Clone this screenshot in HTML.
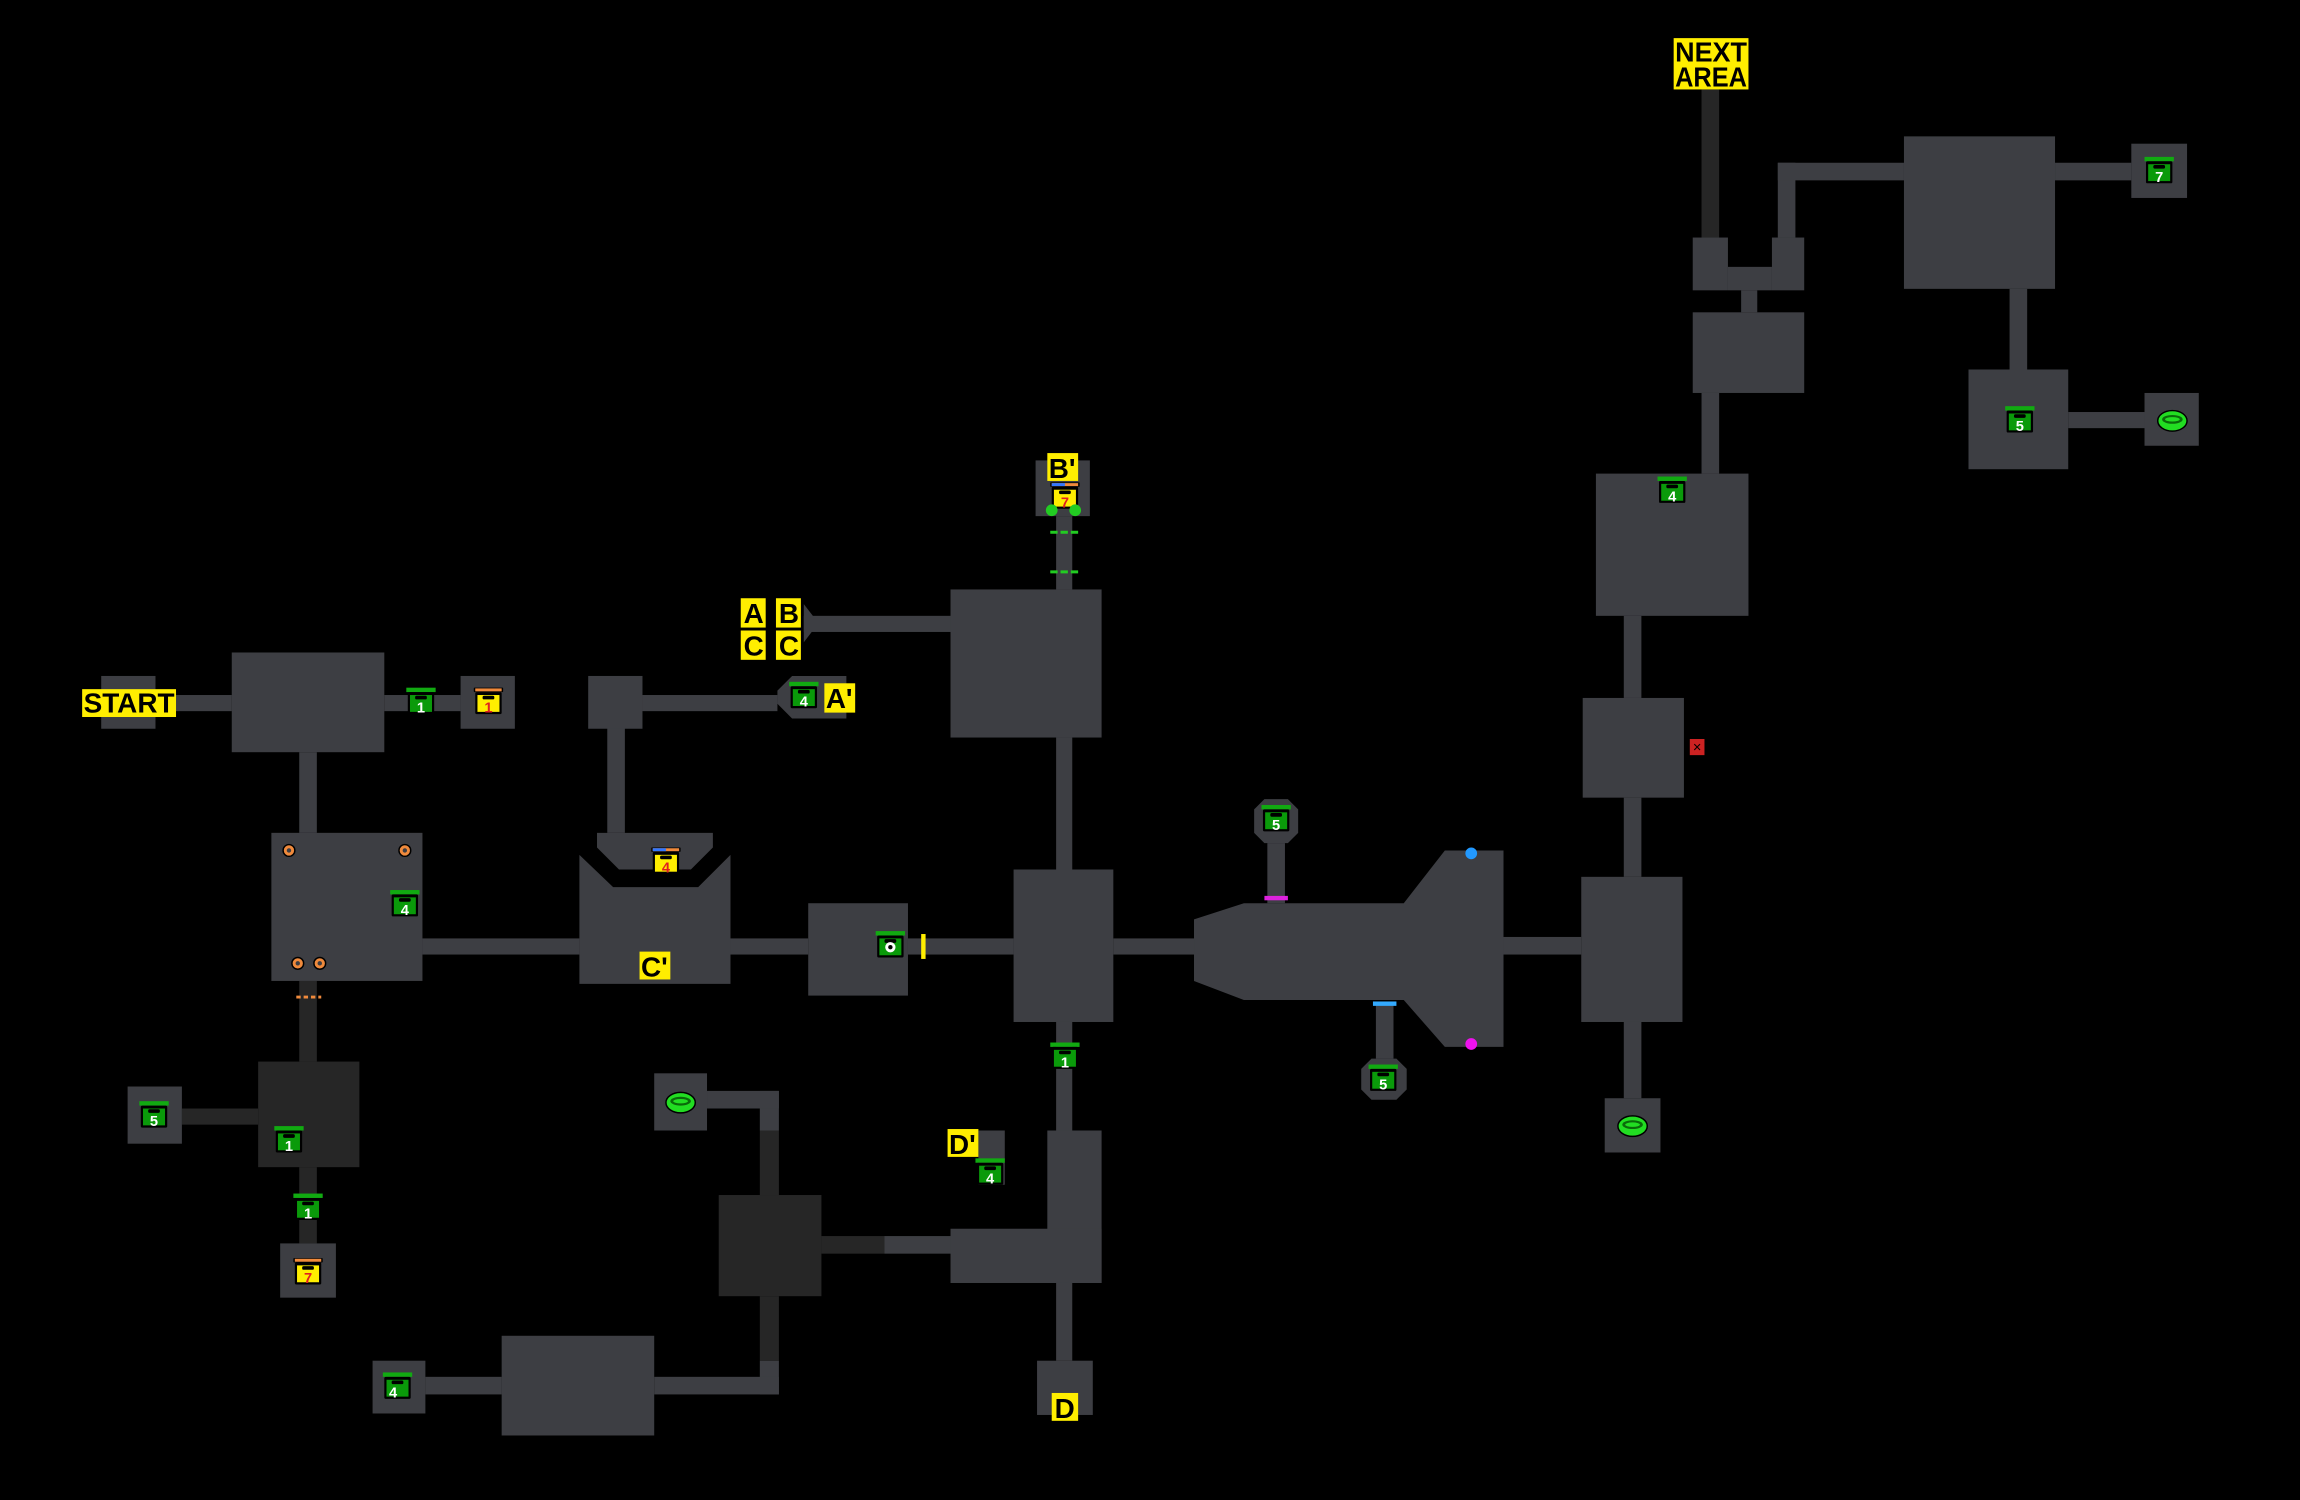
<!DOCTYPE html>
<html><head><meta charset="utf-8"><style>
html,body{margin:0;padding:0;background:#000;}
svg{display:block}
text{font-family:"Liberation Sans","DejaVu Sans",sans-serif;}
.r{fill:#3d3e43}
.d{fill:#262626}
.lab{fill:#ffee00}
.lt{font-size:19px;fill:#000;font-weight:bold}
.cn{font-size:10px;fill:#fff;text-anchor:middle;font-weight:bold}
.yn{font-size:10px;fill:#e02020;text-anchor:middle;font-weight:bold}
</style></head><body>
<svg width="2300" height="1500" viewBox="0 0 1568 1023" preserveAspectRatio="none" xmlns="http://www.w3.org/2000/svg">
<defs>
<g id="gc"><rect x="0" y="-1" width="20" height="3" fill="#11aa11"/><rect x="1" y="2" width="18" height="15" rx="1" fill="#000"/><rect x="2.5" y="4" width="15" height="11.5" fill="#0a9a0a"/><rect x="6" y="4.5" width="8" height="2.5" rx="1" fill="#000"/></g>
<g id="yc"><rect x="0" y="-1" width="20" height="3" rx="0.5" fill="#000"/><rect x="1" y="-0.5" width="18" height="2" fill="#f08a3c"/><rect x="1" y="2" width="18" height="15" rx="1" fill="#000"/><rect x="2.5" y="4" width="15" height="11.5" fill="#ffee00"/><rect x="6" y="4.5" width="8" height="2.5" rx="1" fill="#000"/></g>
<g id="ring"><ellipse cx="0" cy="0" rx="10" ry="7" fill="#22dd22" stroke="#000" stroke-width="1"/><ellipse cx="0" cy="-1" rx="7" ry="3" fill="#0a6a0a"/><ellipse cx="0" cy="-1" rx="5" ry="1.5" fill="#22dd22"/></g>
</defs>
<rect width="1568" height="1023" fill="#000"/>

<g class="r">
<rect x="106" y="474" width="52" height="11"/>
<rect x="262" y="474" width="52" height="11"/>
<rect x="204" y="513" width="12" height="55"/>
<rect x="288" y="640" width="107" height="11"/>
<rect x="414" y="485" width="12" height="83"/>
<rect x="438" y="474" width="92" height="11"/>
<rect x="498" y="640" width="53" height="11"/>
<rect x="619" y="640" width="72" height="11"/>
<rect x="720" y="503" width="11" height="90"/>
<rect x="548" y="420" width="100" height="11"/>
<rect x="720" y="352" width="11" height="50"/>
<rect x="720" y="697" width="11" height="74"/>
<rect x="603" y="843" width="45" height="12"/>
<rect x="518" y="744" width="13" height="27"/>
<rect x="482" y="744" width="49" height="12"/>
<rect x="518" y="928" width="13" height="23"/>
<rect x="446" y="939" width="85" height="12"/>
<rect x="290" y="939" width="52" height="12"/>
<rect x="720" y="875" width="11" height="53"/>
<rect x="759" y="640" width="55" height="11"/>
<rect x="864" y="575" width="12" height="41"/>
<rect x="938" y="684" width="12" height="38"/>
<rect x="1025" y="639" width="53" height="12"/>
<rect x="1107" y="697" width="12" height="52"/>
<rect x="1107" y="544" width="12" height="54"/>
<rect x="1107" y="420" width="12" height="56"/>
<rect x="1160" y="268" width="12" height="55"/>
<rect x="1187" y="198" width="11" height="15"/>
<rect x="1212" y="111" width="12" height="51"/>
<rect x="1212" y="111" width="86" height="12"/>
<rect x="1401" y="111" width="52" height="12"/>
<rect x="1370" y="197" width="12" height="55"/>
<rect x="1410" y="281" width="52" height="11"/>
</g>
<g class="d">
<rect x="204" y="669" width="12" height="55"/>
<rect x="124" y="756" width="52" height="11"/>
<rect x="204" y="796" width="12" height="52"/>
<rect x="560" y="843" width="43" height="12"/>
<rect x="518" y="771" width="13" height="44"/>
<rect x="518" y="884" width="13" height="44"/>
<rect x="1160" y="60" width="12" height="102"/>
<rect x="176" y="724" width="69" height="72"/>
<rect x="490" y="815" width="70" height="69"/>
</g>

<g class="r">
<rect x="69" y="461" width="37" height="36"/>
<rect x="158" y="445" width="104" height="68"/>
<rect x="314" y="461" width="37" height="36"/>
<rect x="185" y="568" width="103" height="101"/>
<rect x="87" y="741" width="37" height="39"/>
<rect x="191" y="848" width="38" height="37"/>
<polygon points="395,583 418,605 476,605 498,583 498,671 395,671"/>
<polygon points="407,568 486,568 486,578 471,593 422,593 407,578"/>
<rect x="401" y="461" width="37" height="36"/>
<polygon points="540,461 577,461 577,490 540,490 530,480 530,471"/>
<rect x="551" y="616" width="68" height="63"/>
<rect x="691" y="593" width="68" height="104"/>
<rect x="648" y="402" width="103" height="101"/>
<polygon points="548,412 548,438 558,425"/>
<rect x="706" y="314" width="37" height="38"/>
<rect x="714" y="771" width="37" height="104"/>
<rect x="648" y="838" width="103" height="37"/>
<rect x="667" y="771" width="18" height="37"/>
<rect x="446" y="732" width="36" height="39"/>
<rect x="342" y="911" width="104" height="68"/>
<rect x="254" y="928" width="36" height="36"/>
<rect x="707" y="928" width="38" height="37"/>
<polygon points="814,627 848,616 957,616 985,580 1025,580 1025,714 985,714 957,682 848,682 814,669"/>
<polygon points="862,545 878,545 885,552 885,568 878,575 862,575 855,568 855,552"/>
<polygon points="935,722 952,722 959,729 959,743 952,750 935,750 928,743 928,729"/>
<rect x="1078" y="598" width="69" height="99"/>
<rect x="1094" y="749" width="38" height="37"/>
<rect x="1079" y="476" width="69" height="68"/>
<rect x="1088" y="323" width="104" height="97"/>
<rect x="1154" y="213" width="76" height="55"/>
<rect x="1154" y="162" width="24" height="36"/>
<rect x="1178" y="182" width="30" height="16"/>
<rect x="1208" y="162" width="22" height="36"/>
<rect x="1298" y="93" width="103" height="104"/>
<rect x="1453" y="98" width="38" height="37"/>
<rect x="1342" y="252" width="68" height="68"/>
<rect x="1462" y="268" width="37" height="36"/>
</g>

<rect class="lab" x="56" y="470" width="64" height="19"/><text class="lt" x="57" y="486" textLength="62" lengthAdjust="spacingAndGlyphs">START</text>
<rect class="lab" x="1141" y="26" width="51" height="35"/><text class="lt" x="1142" y="42" textLength="49" lengthAdjust="spacingAndGlyphs">NEXT</text><text class="lt" x="1142" y="59" textLength="49" lengthAdjust="spacingAndGlyphs">AREA</text>
<rect class="lab" x="505" y="408" width="17" height="20"/><text class="lt" x="507" y="425">A</text>
<rect class="lab" x="529" y="408" width="17" height="20"/><text class="lt" x="531" y="425">B</text>
<rect class="lab" x="505" y="430" width="17" height="20"/><text class="lt" x="507" y="447">C</text>
<rect class="lab" x="529" y="430" width="17" height="20"/><text class="lt" x="531" y="447">C</text>
<rect class="lab" x="562" y="466" width="21" height="20"/><text class="lt" x="563" y="483">A'</text>
<rect class="lab" x="714" y="309" width="21" height="19"/><text class="lt" x="715" y="326">B'</text>
<rect class="lab" x="436" y="649" width="21" height="19"/><text class="lt" x="437" y="666">C'</text>
<rect class="lab" x="646" y="770" width="21" height="19"/><text class="lt" x="647" y="787">D'</text>
<rect class="lab" x="717" y="950" width="18" height="19"/><text class="lt" x="719" y="967">D</text>

<g>
<use href="#gc" x="277" y="470"/><text class="cn" x="287" y="486">1</text>
<use href="#gc" x="266" y="608"/><text class="cn" x="276" y="624">4</text>
<use href="#gc" x="95" y="752"/><text class="cn" x="105" y="768">5</text>
<use href="#gc" x="187" y="769"/><text class="cn" x="197" y="785">1</text>
<use href="#gc" x="200" y="815"/><text class="cn" x="210" y="831">1</text>
<use href="#gc" x="538" y="466"/><text class="cn" x="548" y="482">4</text>
<use href="#gc" x="597" y="636"/><circle cx="607" cy="646" r="3.5" fill="#fff"/><circle cx="607" cy="646" r="1.5" fill="#000"/>
<use href="#gc" x="716" y="712"/><text class="cn" x="726" y="728">1</text>
<use href="#gc" x="665" y="791"/><text class="cn" x="675" y="807">4</text>
<use href="#gc" x="261" y="937"/><text class="cn" x="268" y="953">4</text>
<use href="#gc" x="860" y="550"/><text class="cn" x="870" y="566">5</text>
<use href="#gc" x="933" y="727"/><text class="cn" x="943" y="743">5</text>
<use href="#gc" x="1130" y="326"/><text class="cn" x="1140" y="342">4</text>
<use href="#gc" x="1462" y="108"/><text class="cn" x="1472" y="124">7</text>
<use href="#gc" x="1367" y="278"/><text class="cn" x="1377" y="294">5</text>
</g>
<use href="#yc" x="323" y="470"/><text class="yn" x="333" y="486">1</text>
<use href="#yc" x="444" y="579"/><text class="yn" x="454" y="595">4</text>
<use href="#yc" x="716" y="330"/><text class="yn" x="726" y="346">7</text>
<use href="#yc" x="200" y="859"/><text class="yn" x="210" y="875">7</text>
<rect x="445" y="578.5" width="9" height="2" fill="#3377ff"/>
<rect x="717" y="329.5" width="9" height="2" fill="#3377ff"/>

<use href="#ring" x="464" y="752"/>
<use href="#ring" x="1113" y="768"/>
<use href="#ring" x="1481" y="287"/>

<g fill="#f08a3c" stroke="#000" stroke-width="1">
<circle cx="197" cy="580" r="4"/><circle cx="276" cy="580" r="4"/><circle cx="203" cy="657" r="4"/><circle cx="218" cy="657" r="4"/>
</g>
<g fill="#3d3e43"><circle cx="197" cy="580" r="1.5"/><circle cx="276" cy="580" r="1.5"/><circle cx="203" cy="657" r="1.5"/><circle cx="218" cy="657" r="1.5"/></g>
<line x1="202" y1="680" x2="219" y2="680" stroke="#f08a3c" stroke-width="2" stroke-dasharray="3,2"/>
<rect x="628" y="637" width="3" height="17" fill="#ffee00"/>
<line x1="716" y1="363" x2="735" y2="363" stroke="#22cc22" stroke-width="2" stroke-dasharray="5,2"/>
<line x1="716" y1="390" x2="735" y2="390" stroke="#22cc22" stroke-width="2" stroke-dasharray="5,2"/>
<circle cx="717" cy="348" r="4" fill="#22cc22"/><circle cx="733" cy="348" r="4" fill="#22cc22"/>
<rect x="862" y="611" width="16" height="3" fill="#dd22dd"/>
<rect x="936" y="683" width="16" height="3" fill="#33aaff"/>
<circle cx="1003" cy="582" r="4" fill="#2299ff"/>
<circle cx="1003" cy="712" r="4" fill="#ee11ee"/>
<rect x="1152" y="504" width="10" height="11" fill="#cc2222"/><text x="1157" y="513" font-size="10" fill="#000" text-anchor="middle">×</text>
</svg>
</body></html>
